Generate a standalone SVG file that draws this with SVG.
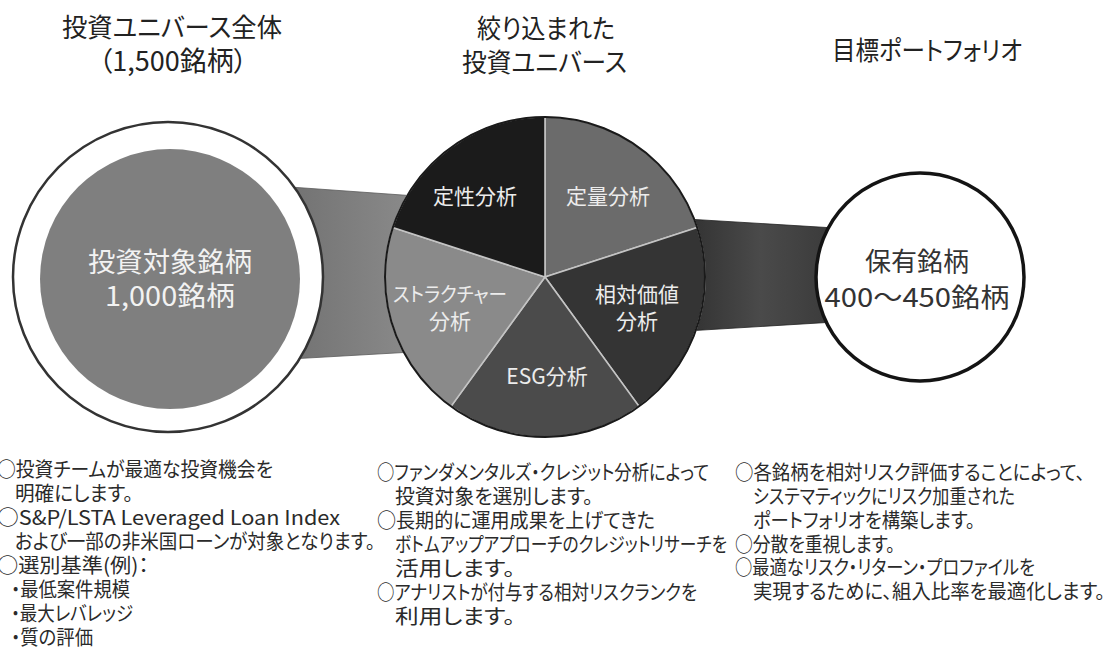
<svg xmlns="http://www.w3.org/2000/svg" width="1103" height="648" viewBox="0 0 1103 648">
<defs>
<style>
text{font-family:"Noto Sans CJK JP","Noto Sans",sans-serif;font-feature-settings:"palt";}
.title{font-size:26px;fill:#222;}
.note{font-size:20px;fill:#2a2a2a;}
.pl{font-size:21px;fill:#ececec;text-anchor:middle;}
.slice{stroke:#c4c4c4;stroke-width:1.6;}
</style>
<linearGradient id="gL" x1="0" y1="0" x2="1" y2="0">
<stop offset="0" stop-color="#727272"/>
<stop offset="1" stop-color="#8e8e8e"/>
</linearGradient>
<linearGradient id="gR" x1="0" y1="0" x2="1" y2="0">
<stop offset="0" stop-color="#2c2c2c"/>
<stop offset="0.55" stop-color="#4a4a4a"/>
<stop offset="1" stop-color="#3a3a3a"/>
</linearGradient>
</defs>
<rect width="1103" height="648" fill="#ffffff"/>

<g id="titles">
<text class="title" x="62" y="37" textLength="220" lengthAdjust="spacingAndGlyphs">投資ユニバース全体</text>
<text class="title" x="173" y="71" text-anchor="middle" style="font-size:27px">（1,500銘柄）</text>
<text class="title" x="477" y="38" textLength="138" lengthAdjust="spacingAndGlyphs">絞り込まれた</text>
<text class="title" x="462" y="72" textLength="165" lengthAdjust="spacingAndGlyphs">投資ユニバース</text>
<text class="title" x="832" y="60" textLength="190" lengthAdjust="spacingAndGlyphs">目標ポートフォリオ</text>
</g>

<g id="connectors">
<polygon points="290,187 430,197 430,351 290,359" fill="url(#gL)" stroke="#5a5a5a" stroke-width="0.8"/>
<polygon points="670,218 835,228 835,322 670,332" fill="url(#gR)" stroke="#222" stroke-width="0.8"/>
</g>

<g id="universe-all">
<circle cx="168" cy="277" r="155" fill="#ffffff" stroke="#333" stroke-width="2.5"/>
<circle cx="170" cy="279" r="130" fill="#7f7f7f"/>
<text x="170" y="272" text-anchor="middle" style="font-size:27px;fill:#f2f2f2" textLength="164" lengthAdjust="spacingAndGlyphs">投資対象銘柄</text>
<text x="170" y="306" text-anchor="middle" style="font-size:27px;fill:#f2f2f2" textLength="130" lengthAdjust="spacingAndGlyphs">1,000銘柄</text>
</g>

<g id="pie">
<g id="slice-quant">
<path class="slice" d="M545,277 L545,117 A160,160 0 0 1 697.2,227.6 Z" fill="#6b6b6b"/>
<text class="pl" x="608" y="204">定量分析</text>
</g>
<g id="slice-relative">
<path class="slice" d="M545,277 L697.2,227.6 A160,160 0 0 1 639,406.4 Z" fill="#343434"/>
<text class="pl" x="637" y="302">相対価値</text>
<text class="pl" x="637" y="329">分析</text>
</g>
<g id="slice-esg">
<path class="slice" d="M545,277 L639,406.4 A160,160 0 0 1 451,406.4 Z" fill="#4b4b4b"/>
<text class="pl" x="547" y="384">ESG分析</text>
</g>
<g id="slice-structure">
<path class="slice" d="M545,277 L451,406.4 A160,160 0 0 1 392.8,227.6 Z" fill="#8a8a8a"/>
<text class="pl" x="450" y="302" textLength="114" lengthAdjust="spacingAndGlyphs" style="font-size:20px">ストラクチャー</text>
<text class="pl" x="450" y="329">分析</text>
</g>
<g id="slice-qual">
<path class="slice" d="M545,277 L392.8,227.6 A160,160 0 0 1 545,117 Z" fill="#1b1b1b"/>
<text class="pl" x="475" y="204">定性分析</text>
</g>
<circle cx="545" cy="277" r="160" fill="none" stroke="#1a1a1a" stroke-width="2"/>
</g>

<g id="portfolio">
<circle cx="920" cy="277" r="104" fill="#ffffff" stroke="#141414" stroke-width="3.5"/>
<text x="917" y="271" text-anchor="middle" style="font-size:26px;fill:#333">保有銘柄</text>
<text x="917" y="307" text-anchor="middle" style="font-size:26px;fill:#333" textLength="185" lengthAdjust="spacingAndGlyphs">400〜450銘柄</text>
</g>

<g id="notes-left">
<text class="note" x="-3" y="477" textLength="276" lengthAdjust="spacingAndGlyphs">○投資チームが最適な投資機会を</text>
<text class="note" x="15" y="501" textLength="118" lengthAdjust="spacingAndGlyphs">明確にします。</text>
<text class="note" x="-3" y="525" textLength="343" lengthAdjust="spacingAndGlyphs">○S&amp;P/LSTA Leveraged Loan Index</text>
<text class="note" x="15" y="549" textLength="360" lengthAdjust="spacingAndGlyphs">および一部の非米国ローンが対象となります。</text>
<text class="note" x="-3" y="573" textLength="152" lengthAdjust="spacingAndGlyphs">○選別基準(例)：</text>
<text class="note" x="11" y="597" textLength="119" lengthAdjust="spacingAndGlyphs">・最低案件規模</text>
<text class="note" x="11" y="621" textLength="122" lengthAdjust="spacingAndGlyphs">・最大レバレッジ</text>
<text class="note" x="11" y="645" textLength="82" lengthAdjust="spacingAndGlyphs">・質の評価</text>
</g>

<g id="notes-middle">
<text class="note" x="377" y="480" textLength="332" lengthAdjust="spacingAndGlyphs">○ファンダメンタルズ・クレジット分析によって</text>
<text class="note" x="395" y="504" textLength="198" lengthAdjust="spacingAndGlyphs">投資対象を選別します。</text>
<text class="note" x="377" y="528" textLength="278" lengthAdjust="spacingAndGlyphs">○長期的に運用成果を上げてきた</text>
<text class="note" x="395" y="552" textLength="332" lengthAdjust="spacingAndGlyphs">ボトムアップアプローチのクレジットリサーチを</text>
<text class="note" x="395" y="576" textLength="120" lengthAdjust="spacingAndGlyphs">活用します。</text>
<text class="note" x="377" y="600" textLength="320" lengthAdjust="spacingAndGlyphs">○アナリストが付与する相対リスクランクを</text>
<text class="note" x="395" y="624" textLength="120" lengthAdjust="spacingAndGlyphs">利用します。</text>
</g>

<g id="notes-right">
<text class="note" x="735" y="480" textLength="350" lengthAdjust="spacingAndGlyphs">○各銘柄を相対リスク評価することによって、</text>
<text class="note" x="753" y="504" textLength="262" lengthAdjust="spacingAndGlyphs">システマティックにリスク加重された</text>
<text class="note" x="753" y="528" textLength="222" lengthAdjust="spacingAndGlyphs">ポートフォリオを構築します。</text>
<text class="note" x="735" y="552" textLength="160" lengthAdjust="spacingAndGlyphs">○分散を重視します。</text>
<text class="note" x="735" y="575" textLength="300" lengthAdjust="spacingAndGlyphs">○最適なリスク・リターン・プロファイルを</text>
<text class="note" x="753" y="599" textLength="352" lengthAdjust="spacingAndGlyphs">実現するために、組入比率を最適化します。</text>
</g>
</svg>
